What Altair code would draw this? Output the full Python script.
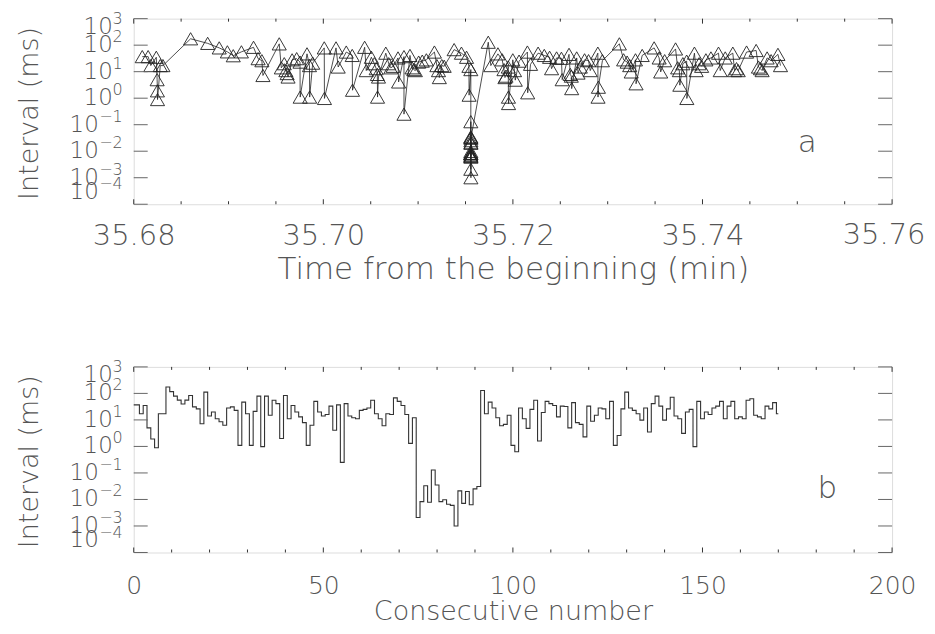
import altair as alt
import pandas as pd

# ---------------- data ----------------
interval_ms = [
    37, 37, 17, 35, 5.0, 1.9, 0.89, 17, 17, 174,
    117, 79, 56, 40, 56, 83, 31, 26, 7.2, 112,
    14, 20, 11, 8.5, 6.3, 28, 31, 23, 1.1, 47,
    17, 1.1, 21, 79, 0.98, 79, 15, 55, 41, 2.0,
    83, 11, 35, 20, 13, 7.9, 1.1, 6.3, 50, 20,
    14, 16, 33, 4.1, 37, 0.25, 41, 14, 12, 11,
    23, 25, 28, 55, 17, 11, 6.0, 17, 16, 68,
    50, 35, 16, 1.3, 12, 0.0021, 0.0083, 0.033, 0.0079, 0.13,
    0.035, 0.0083, 0.0098, 0.0066, 0.006, 0.001, 0.021, 0.0071, 0.02, 0.0063,
    0.025, 0.031, 129, 17, 47, 28, 12, 6.0, 6.8, 15,
    1.1, 0.63, 28, 11, 4.8, 25, 55, 1.6, 19, 50,
    41, 35, 13, 33, 32, 5.0, 45, 7.9, 6.8, 2.3,
    33, 8.9, 15, 28, 26, 11, 50, 1.1, 2.6, 26,
    112, 28, 23, 17, 9.8, 28, 3.5, 41, 79, 33,
    9.8, 26, 72, 14, 11, 3.1, 20, 25, 0.98, 50,
    11, 20, 16, 28, 33, 50, 11, 33, 50, 11,
    13, 11, 55, 63, 15, 13, 11, 33, 26, 45,
    17,
]

event_time_min = [
    35.68090, 35.68152, 35.68180, 35.68238, 35.68247, 35.68250, 35.68251, 35.68280, 35.68308, 35.68600,
    35.68780, 35.68902, 35.68988, 35.69050, 35.69136, 35.69264, 35.69312, 35.69352, 35.69363, 35.69535,
    35.69557, 35.69588, 35.69605, 35.69618, 35.69628, 35.69671, 35.69719, 35.69754, 35.69756, 35.69828,
    35.69854, 35.69856, 35.69888, 35.70010, 35.70012, 35.70134, 35.70157, 35.70242, 35.70305, 35.70308,
    35.70436, 35.70453, 35.70507, 35.70538, 35.70558, 35.70570, 35.70572, 35.70582, 35.70659, 35.70690,
    35.70712, 35.70737, 35.70788, 35.70794, 35.70851, 35.70851, 35.70914, 35.70936, 35.70954, 35.70971,
    35.71006, 35.71044, 35.71087, 35.71172, 35.71198, 35.71215, 35.71224, 35.71250, 35.71275, 35.71380,
    35.71457, 35.71511, 35.71536, 35.71538, 35.71556, 35.71556, 35.71556, 35.71556, 35.71556, 35.71556,
    35.71556, 35.71556, 35.71556, 35.71556, 35.71557, 35.71557, 35.71557, 35.71557, 35.71557, 35.71557,
    35.71557, 35.71557, 35.71740, 35.71767, 35.71842, 35.71887, 35.71906, 35.71916, 35.71927, 35.71951,
    35.71953, 35.71954, 35.71999, 35.72017, 35.72025, 35.72065, 35.72153, 35.72156, 35.72186, 35.72266,
    35.72331, 35.72387, 35.72408, 35.72461, 35.72512, 35.72520, 35.72592, 35.72605, 35.72616, 35.72620,
    35.72673, 35.72687, 35.72711, 35.72756, 35.72798, 35.72816, 35.72896, 35.72898, 35.72902, 35.72944,
    35.73123, 35.73168, 35.73205, 35.73232, 35.73248, 35.73293, 35.73299, 35.73364, 35.73490, 35.73543,
    35.73559, 35.73601, 35.73716, 35.73738, 35.73756, 35.73761, 35.73793, 35.73833, 35.73835, 35.73915,
    35.73933, 35.73965, 35.73991, 35.74036, 35.74089, 35.74169, 35.74187, 35.74240, 35.74320, 35.74338,
    35.74359, 35.74377, 35.74465, 35.74566, 35.74590, 35.74611, 35.74629, 35.74682, 35.74724, 35.74796,
    35.74823,
]

consecutive_number = list(range(len(interval_ms)))

ytick_values = [1000, 100, 10, 1, 0.1, 0.01, 0.001, 0.0001]
ytick_exponents = ["3", "2", "1", "0", "\u22121", "\u22122", "\u22123", "\u22124"]

xa_major = [35.68, 35.70, 35.72, 35.74, 35.76]
xa_minor = [35.685, 35.69, 35.695, 35.705, 35.71, 35.715,
            35.725, 35.73, 35.735, 35.745, 35.75, 35.755]
xb_major = [0, 50, 100, 150, 200]
xb_minor = [10, 20, 30, 40, 60, 70, 80, 90, 110, 120, 130, 140,
            160, 170, 180, 190]

# ---------------- style ----------------
W, H = 760, 186
FONT = "DejaVu Sans"
TXT = "#555555"
WEIGHT = 200
LINE = "#222222"

df_a = pd.DataFrame({"t": event_time_min, "ms": interval_ms, "n": consecutive_number})
df_b = pd.DataFrame({"n": consecutive_number, "ms": interval_ms})
ylab_df = pd.DataFrame({"v": ytick_values, "e": ytick_exponents})

yscale = alt.Scale(type="log", domain=[0.0001, 1000], nice=False)
Y_V = alt.Y("v:Q", scale=yscale, axis=None)
Y_MS = alt.Y("ms:Q", scale=yscale, axis=None)


def y_decorations():
    layers = []
    yt = alt.Chart(ylab_df)
    layers.append(yt.mark_rule(color="#666", strokeWidth=1).encode(
        x=alt.value(0), x2=alt.value(14), y=Y_V))
    layers.append(yt.mark_rule(color="#666", strokeWidth=1).encode(
        x=alt.value(W - 14), x2=alt.value(W), y=Y_V))
    groups = [
        ("datum.v == 1000", -21, 8),
        ("datum.v >= 1 && datum.v < 1000", -21, 0),
        ("datum.v < 1 && datum.v > 0.0001", -35, 0),
        ("datum.v == 0.0001", -35, -12),
    ]
    for cond, x10, dy in groups:
        b = yt.transform_filter(cond)
        layers.append(b.mark_text(text="10", align="right", baseline="middle", dy=dy,
                                  fontSize=23, font=FONT, fontWeight=WEIGHT, color=TXT).encode(
            x=alt.value(x10), y=Y_V))
        layers.append(b.mark_text(align="right", baseline="middle", dy=dy - 8,
                                  fontSize=16, font=FONT, fontWeight=WEIGHT, color=TXT).encode(
            x=alt.value(-11), y=Y_V, text="e:N"))
    layers.append(alt.Chart(pd.DataFrame({"s": ["Interval (ms)"]})).mark_text(
        angle=270, align="center", baseline="middle", fontSize=27, font=FONT,
        fontWeight=WEIGHT, color=TXT).encode(x=alt.value(-104), y=alt.value(95), text="s:N"))
    return layers


def x_ticks(major, minor, xenc_factory):
    layers = []
    for vals, ln in [(major, 5), (minor, 3)]:
        d = alt.Chart(pd.DataFrame({"x": vals}))
        layers.append(d.mark_rule(color="#333", strokeWidth=1).encode(
            x=xenc_factory("x:Q"), y=alt.value(H), y2=alt.value(H - ln)))
        layers.append(d.mark_rule(color="#333", strokeWidth=1).encode(
            x=xenc_factory("x:Q"), y=alt.value(0), y2=alt.value(ln)))
    return layers


def letter(txt, px, py):
    return alt.Chart(pd.DataFrame({"s": [txt]})).mark_text(
        align="center", baseline="middle", fontSize=31, font=FONT, fontWeight=WEIGHT,
        color=TXT).encode(x=alt.value(px), y=alt.value(py), text="s:N")


axis_common = dict(ticks=False, domain=False, grid=False,
                   labelFont=FONT, labelFontWeight=WEIGHT, labelColor=TXT,
                   titleFont=FONT, titleFontWeight=WEIGHT, titleColor=TXT,
                   labelFlush=False, labelOverlap=False)

# ---------------- panel a ----------------
xs_a = alt.Scale(domain=[35.68, 35.76], nice=False, zero=False)
axis_a = alt.Axis(values=xa_major[:-1], format=".2f", title="Time from the beginning (min)",
                  labelFontSize=29, labelPadding=17, titleFontSize=31, titlePadding=4,
                  **axis_common)


def xa(field):
    return alt.X(field, scale=xs_a, axis=axis_a)


base_a = alt.Chart(df_a)
line_a = base_a.mark_line(color=LINE, strokeWidth=0.8).encode(
    x=xa("t:Q"), y=Y_MS, order="n:Q")
pts_a = base_a.mark_point(shape="triangle-up", filled=False, size=200, color=LINE,
                          strokeWidth=0.9, opacity=1).encode(x=xa("t:Q"), y=Y_MS)
# last tick label drawn on its own so it stays inside the page, as in the original
last_label_a = alt.Chart(pd.DataFrame({"x": [xa_major[-1]]})).mark_text(
    align="center", baseline="top", dx=-8, fontSize=29, font=FONT, fontWeight=WEIGHT,
    color=TXT).encode(x=xa("x:Q"), y=alt.value(H + 17), text=alt.Text("x:Q", format=".2f"))

panel_a = alt.layer(line_a, pts_a, *x_ticks(xa_major, xa_minor, xa), *y_decorations(),
                    letter("a", 675, 125), last_label_a).properties(width=W, height=H)

# ---------------- panel b ----------------
xs_b = alt.Scale(domain=[0, 200], nice=False, zero=False)
axis_b = alt.Axis(values=xb_major, format="d", title="Consecutive number",
                  labelFontSize=25, labelPadding=21, titleFontSize=27, titlePadding=0,
                  **axis_common)


def xb(field):
    return alt.X(field, scale=xs_b, axis=axis_b)


line_b = alt.Chart(df_b).mark_line(interpolate="step", color="#333", strokeWidth=1.1).encode(
    x=xb("n:Q"), y=Y_MS, order="n:Q")

panel_b = alt.layer(line_b, *x_ticks(xb_major, xb_minor, xb), *y_decorations(),
                    letter("b", 695, 122)).properties(width=W, height=H)

chart = alt.vconcat(panel_a, panel_b, spacing=163, bounds="flush").properties(
    padding={"left": 7, "top": 1, "right": 0, "bottom": 0}
).configure_view(stroke="#333", strokeWidth=1).configure(background="white")

chart.save("out.html", embed_options={"renderer": "svg", "actions": False})
